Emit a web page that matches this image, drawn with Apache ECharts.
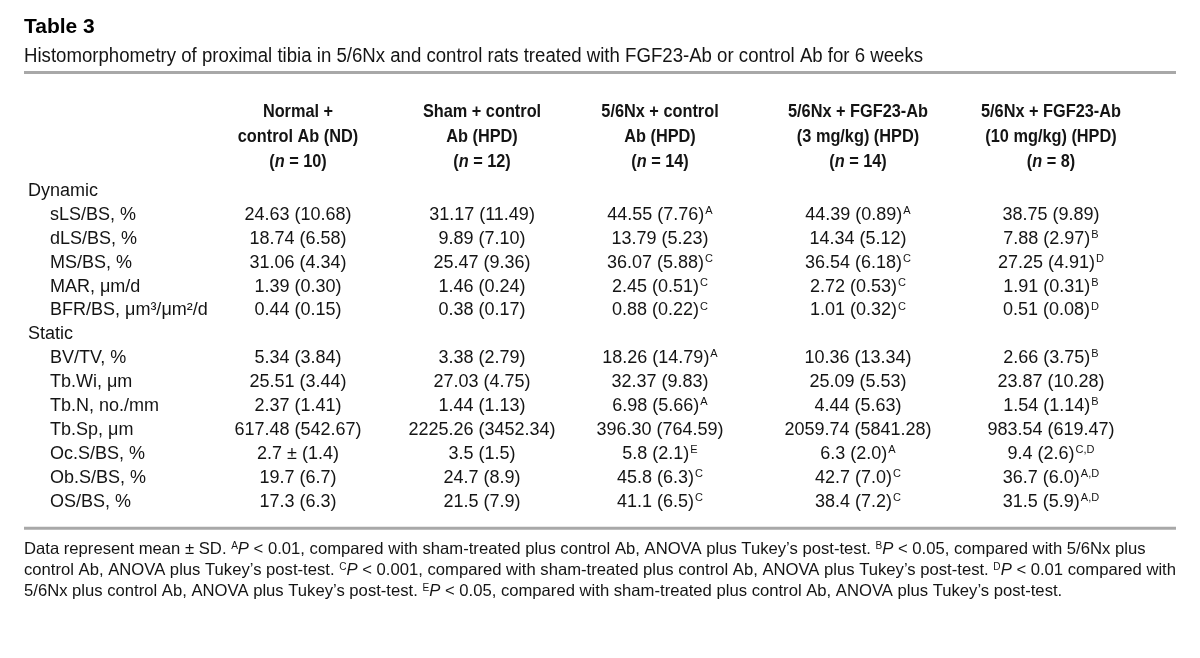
<!DOCTYPE html>
<html><head><meta charset="utf-8">
<script src="https://cdn.jsdelivr.net/npm/echarts@6/dist/echarts.min.js"></script>
<style>html,body{margin:0;padding:0;background:#fff}#c{width:1200px;height:658px}</style>
</head><body><div id="c"></div>
<script>
// ---------- data ----------
const tableTitle = 'Table 3';
const tableSubtitle = 'Histomorphometry of proximal tibia in 5/6Nx and control rats treated with FGF23-Ab or control Ab for 6 weeks';
const groupHeaders = [
  ['Normal +', 'control Ab (ND)'],
  ['Sham + control', 'Ab (HPD)'],
  ['5/6Nx + control', 'Ab (HPD)'],
  ['5/6Nx + FGF23-Ab', '(3 mg/kg) (HPD)'],
  ['5/6Nx + FGF23-Ab', '(10 mg/kg) (HPD)']
];
const groupN = [10, 12, 14, 14, 8];
const sectionDynamic = 'Dynamic';
const sectionStatic = 'Static';
const dynamicRows = ['sLS/BS, %', 'dLS/BS, %', 'MS/BS, %', 'MAR, μm/d', 'BFR/BS, μm³/μm²/d'];
const staticRows = ['BV/TV, %', 'Tb.Wi, μm', 'Tb.N, no./mm', 'Tb.Sp, μm', 'Oc.S/BS, %', 'Ob.S/BS, %', 'OS/BS, %'];

const normalND = ['24.63 (10.68)', '18.74 (6.58)', '31.06 (4.34)', '1.39 (0.30)', '0.44 (0.15)',
  '5.34 (3.84)', '25.51 (3.44)', '2.37 (1.41)', '617.48 (542.67)', '2.7 ± (1.4)', '19.7 (6.7)', '17.3 (6.3)'];
const normalNDSig = ['', '', '', '', '', '', '', '', '', '', '', ''];
const shamHPD = ['31.17 (11.49)', '9.89 (7.10)', '25.47 (9.36)', '1.46 (0.24)', '0.38 (0.17)',
  '3.38 (2.79)', '27.03 (4.75)', '1.44 (1.13)', '2225.26 (3452.34)', '3.5 (1.5)', '24.7 (8.9)', '21.5 (7.9)'];
const shamHPDSig = ['', '', '', '', '', '', '', '', '', '', '', ''];
const nxControl = ['44.55 (7.76)', '13.79 (5.23)', '36.07 (5.88)', '2.45 (0.51)', '0.88 (0.22)',
  '18.26 (14.79)', '32.37 (9.83)', '6.98 (5.66)', '396.30 (764.59)', '5.8 (2.1)', '45.8 (6.3)', '41.1 (6.5)'];
const nxControlSig = ['A', '', 'C', 'C', 'C', 'A', '', 'A', '', 'E', 'C', 'C'];
const nxAb3 = ['44.39 (0.89)', '14.34 (5.12)', '36.54 (6.18)', '2.72 (0.53)', '1.01 (0.32)',
  '10.36 (13.34)', '25.09 (5.53)', '4.44 (5.63)', '2059.74 (5841.28)', '6.3 (2.0)', '42.7 (7.0)', '38.4 (7.2)'];
const nxAb3Sig = ['A', '', 'C', 'C', 'C', '', '', '', '', 'A', 'C', 'C'];
const nxAb10 = ['38.75 (9.89)', '7.88 (2.97)', '27.25 (4.91)', '1.91 (0.31)', '0.51 (0.08)',
  '2.66 (3.75)', '23.87 (10.28)', '1.54 (1.14)', '983.54 (619.47)', '9.4 (2.6)', '36.7 (6.0)', '31.5 (5.9)'];
const nxAb10Sig = ['', 'B', 'D', 'B', 'D', 'B', '', 'B', '', 'C,D', 'A,D', 'A,D'];

const footnoteLines = [
  [['t', 'Data represent mean ± SD. '], ['s', 'A'], ['i', 'P'], ['t', ' < 0.01, compared with sham-treated plus control Ab, ANOVA plus Tukey’s post-test. '], ['s', 'B'], ['i', 'P'], ['t', ' < 0.05, compared with 5/6Nx plus']],
  [['t', 'control Ab, ANOVA plus Tukey’s post-test. '], ['s', 'C'], ['i', 'P'], ['t', ' < 0.001, compared with sham-treated plus control Ab, ANOVA plus Tukey’s post-test. '], ['s', 'D'], ['i', 'P'], ['t', ' < 0.01 compared with']],
  [['t', '5/6Nx plus control Ab, ANOVA plus Tukey’s post-test. '], ['s', 'E'], ['i', 'P'], ['t', ' < 0.05, compared with sham-treated plus control Ab, ANOVA plus Tukey’s post-test.']]
];

// ---------- layout / style ----------
const FONT = "'Liberation Sans', Arial, Helvetica, sans-serif";
const INK = '#141414';
const RULE = '#a8a8a8';
const colX = [298, 482, 660, 858, 1051];
const sectionX = 28, rowLabelX = 50;
const firstRowY = 191, rowStep = 23.9;
const headerY = [112, 137, 162];
const BODY_SIZE = 18, HEAD_SIZE = 18.5, FOOT_SIZE = 16.5, SUP_SIZE = 11, FOOT_SUP = 10;

const mctx = document.createElement('canvas').getContext('2d');
function measure(text, font) { mctx.font = font; return mctx.measureText(text).width; }
const bodyScale = 1.0;
const headScale = 140 / measure('5/6Nx + FGF23-Ab', 'bold ' + HEAD_SIZE + 'px ' + FONT);
const subScale = 899 / measure(tableSubtitle, '20px ' + FONT);
function footWidth(line) {
  return line.reduce((w, seg) => w + measure(seg[1], (seg[0] === 'i' ? 'italic ' : '') + (seg[0] === 's' ? FOOT_SUP : FOOT_SIZE) + 'px ' + FONT), 0);
}
const footScale = 1152 / footWidth(footnoteLines[1]);

const columns = [normalND, shamHPD, nxControl, nxAb3, nxAb10];
const columnSig = [normalNDSig, shamHPDSig, nxControlSig, nxAb3Sig, nxAb10Sig];
const rowCategories = [sectionDynamic].concat(dynamicRows, [sectionStatic], staticRows);
const valueRows = dynamicRows.concat(staticRows);

const cellData = [];
columns.forEach((col, ci) => {
  col.forEach((v, ri) => {
    const sig = columnSig[ci][ri];
    cellData.push({ value: [colX[ci], valueRows[ri]], text: '{v|' + v + '}' + (sig ? '{s|' + sig + '}' : '') });
  });
});
const labelData = rowCategories.map(r => {
  const isSection = (r === sectionDynamic || r === sectionStatic);
  return { value: [isSection ? sectionX : rowLabelX, r], text: '{v|' + r + '}' };
});

const cellRich = {
  v: { fontFamily: FONT, fontSize: BODY_SIZE, color: INK, lineHeight: 21 },
  s: { fontFamily: FONT, fontSize: SUP_SIZE, color: INK, lineHeight: 12, verticalAlign: 'top', padding: [1, 0, 0, 1] }
};

function textRender(alignMode) {
  return function (params, api) {
    const p = api.coord([api.value(0), api.value(1)]);
    const item = (alignMode === 'left' ? labelData : cellData)[params.dataIndex];
    return {
      type: 'text', x: p[0], y: p[1], scaleX: bodyScale,
      style: { text: item.text, rich: cellRich, align: alignMode, verticalAlign: 'middle', fill: INK }
    };
  };
}

const graphics = [];
graphics.push({ type: 'text', x: 24, y: 27, style: { text: tableTitle, font: 'bold 21px ' + FONT, fill: '#000', verticalAlign: 'middle' } });
graphics.push({ type: 'text', x: 24, y: 56, scaleX: subScale, style: { text: tableSubtitle, font: '20px ' + FONT, fill: INK, verticalAlign: 'middle' } });
graphics.push({ type: 'rect', shape: { x: 24, y: 71, width: 1152, height: 3 }, style: { fill: RULE } });
const headRich = {
  b: { fontFamily: FONT, fontSize: HEAD_SIZE, fontWeight: 'bold', fill: INK },
  i: { fontFamily: FONT, fontSize: HEAD_SIZE, fontWeight: 'bold', fontStyle: 'italic', fill: INK }
};
groupHeaders.forEach((h, i) => {
  const lines = ['{b|' + h[0] + '}', '{b|' + h[1] + '}', '{b|(}{i|n}{b| = ' + groupN[i] + ')}'];
  lines.forEach((t, li) => {
    graphics.push({ type: 'text', x: colX[i], y: headerY[li], scaleX: headScale, style: { text: t, rich: headRich, align: 'center', verticalAlign: 'middle' } });
  });
});
const lastRowY = firstRowY + rowStep * (rowCategories.length - 1);
graphics.push({ type: 'rect', shape: { x: 24, y: lastRowY + 25, width: 1152, height: 3 }, style: { fill: RULE } });
const footRich = {
  t: { fontFamily: FONT, fontSize: FOOT_SIZE, fill: INK, lineHeight: 19 },
  i: { fontFamily: FONT, fontSize: FOOT_SIZE, fontStyle: 'italic', fill: INK, lineHeight: 19 },
  s: { fontFamily: FONT, fontSize: FOOT_SUP, fill: INK, lineHeight: 11, verticalAlign: 'top', padding: [1, 0, 0, 0] }
};
footnoteLines.forEach((line, li) => {
  const txt = line.map(seg => '{' + seg[0] + '|' + seg[1] + '}').join('');
  graphics.push({ type: 'text', x: 24, y: lastRowY + 48 + li * 21, scaleX: footScale, style: { text: txt, rich: footRich, verticalAlign: 'middle' } });
});

const chart = echarts.init(document.getElementById('c'), null, { renderer: 'canvas' });
chart.setOption({
  animation: false,
  backgroundColor: '#ffffff',
  grid: { left: 0, right: 0, top: firstRowY - rowStep / 2, height: rowStep * rowCategories.length },
  xAxis: { type: 'value', min: 0, max: 1200, show: false },
  yAxis: { type: 'category', data: rowCategories, inverse: true, show: false },
  series: [
    { type: 'custom', renderItem: textRender('left'), data: labelData.map(d => d.value), silent: true },
    { type: 'custom', renderItem: textRender('center'), data: cellData.map(d => d.value), silent: true }
  ],
  graphic: graphics
});
</script>
</body></html>
